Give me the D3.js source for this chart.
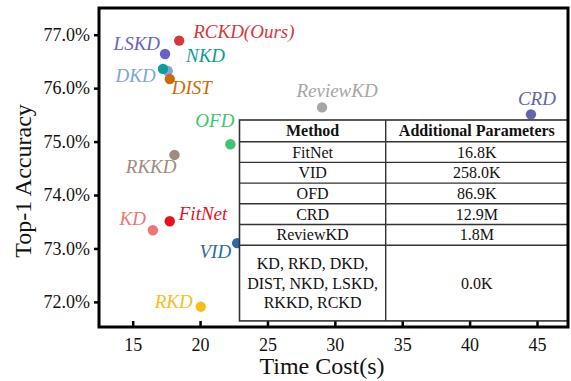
<!DOCTYPE html>
<html>
<head>
<meta charset="utf-8">
<script src="https://cdn.jsdelivr.net/npm/d3@7"></script>
<style>
  body { margin: 0; background: #fff; }
  svg { display: block; font-family: "Liberation Serif", "Times New Roman", serif; }
</style>
</head>
<body>
<svg id="chart"></svg>
<script>
var width = 571;
var height = 381;

// data
var methods  = ["RKD", "CRD", "ReviewKD", "KD", "FitNet", "VID", "RKKD", "OFD", "DIST", "DKD", "NKD", "LSKD", "RCKD(Ours)"];
var timeCost = [20.05, 44.55, 29.05, 16.5, 17.75, 22.75, 18.1, 22.25, 17.75, 17.6, 17.25, 17.4, 18.45];
var accuracy = [71.91, 75.51, 75.64, 73.34, 73.51, 73.1, 74.75, 74.95, 76.17, 76.32, 76.36, 76.64, 76.89];
var colors   = ["#f6bd1d", "#6465a8", "#a6a6a6", "#f07474", "#e3141c", "#2f69a1", "#a08b7e", "#3ec472",
                "#cb6a0d", "#7ba7d5", "#0b9c95", "#6b60c4", "#d3393f"];

var xTicks = [15, 20, 25, 30, 35, 40, 45];
var yTicks = [72, 73, 74, 75, 76, 77];

var tableHeader = ["Method", "Additional Parameters"];
var tableMethods = [["FitNet"], ["VID"], ["OFD"], ["CRD"], ["ReviewKD"],
                    ["KD, RKD, DKD,", "DIST, NKD, LSKD,", "RKKD, RCKD"]];
var tableParams = ["16.8K", "258.0K", "86.9K", "12.9M", "1.8M", "0.0K"];

// label placement relative to each dot: [dx, dy, anchor]
var labelPos = {
    "RKD": [-8, 1, "end"],
    "CRD": [6, -9, "middle"],
    "ReviewKD": [15, -10, "middle"],
    "KD": [-7, -5, "end"],
    "FitNet": [9, -1, "start"],
    "VID": [-6, 15, "end"],
    "RKKD": [2, 18, "end"],
    "OFD": [4, -17, "end"],
    "DIST": [2, 15, "start"],
    "DKD": [-12, 11, "end"],
    "NKD": [23, -7, "start"],
    "LSKD": [-5, -4, "end"],
    "RCKD(Ours)": [14, -3, "start"]
};

var plot = {left: 99, top: 8, right: 568, bottom: 327};

var svg = d3.select("#chart")
    .attr("width", width)
    .attr("height", height);

var x = d3.scaleLinear().domain([12.5, 47.3]).range([plot.left, plot.right]);
var y = d3.scaleLinear().domain([71.53, 77.5]).range([plot.bottom, plot.top]);

// axes
var xAxis = svg.append("g")
    .attr("transform", "translate(0," + plot.bottom + ")")
    .call(d3.axisBottom(x).tickValues(xTicks).tickSizeInner(-6).tickSizeOuter(0).tickPadding(11));
var yAxis = svg.append("g")
    .attr("transform", "translate(" + plot.left + ",0)")
    .call(d3.axisLeft(y).tickValues(yTicks).tickSizeInner(5).tickSizeOuter(0).tickPadding(4)
        .tickFormat(function(d) { return d.toFixed(1) + "%"; }));

[xAxis, yAxis].forEach(function(a) {
    a.select(".domain").remove();
    a.selectAll(".tick line").attr("stroke", "#000").attr("stroke-width", 2.5);
    a.selectAll(".tick text")
        .attr("fill", "#111")
        .style("font-family", "Liberation Serif")
        .style("font-size", "18px");
});

// points
var pts = methods.map(function(m, i) {
    return {name: m, t: timeCost[i], acc: accuracy[i], color: colors[i]};
});
// DKD underneath NKD
var order = ["RKD", "CRD", "ReviewKD", "KD", "FitNet", "VID", "RKKD", "OFD", "DKD", "NKD", "DIST", "LSKD", "RCKD(Ours)"];
pts.sort(function(a, b) { return order.indexOf(a.name) - order.indexOf(b.name); });

svg.append("g")
    .selectAll("circle")
    .data(pts)
    .enter().append("circle")
    .attr("cx", function(d) { return x(d.t); })
    .attr("cy", function(d) { return y(d.acc); })
    .attr("r", 5.2)
    .attr("fill", function(d) { return d.color; });

svg.append("g")
    .selectAll("text")
    .data(pts)
    .enter().append("text")
    .attr("x", function(d) { return x(d.t) + labelPos[d.name][0]; })
    .attr("y", function(d) { return y(d.acc) + labelPos[d.name][1]; })
    .attr("text-anchor", function(d) { return labelPos[d.name][2]; })
    .attr("fill", function(d) { return d.color; })
    .style("font-style", "italic")
    .style("font-size", "19px")
    .text(function(d) { return d.name; });

// table (drawn over the points)
var tbl = {left: 239.5, right: 568, top: 120, col: 385.7, head: 21.7, row: 20.7, last: 75.7};
var rowTops = [tbl.top + tbl.head];
tableMethods.forEach(function(m, i) {
    rowTops.push(rowTops[i] + tbl.row);
});
var tblBottom = rowTops[tableMethods.length - 1] + tbl.last;

var tg = svg.append("g");
tg.append("rect")
    .attr("x", tbl.left).attr("y", tbl.top)
    .attr("width", tbl.right - tbl.left).attr("height", tblBottom - tbl.top)
    .attr("fill", "#fff").attr("stroke", "#333").attr("stroke-width", 1.6);
tg.append("line")
    .attr("x1", tbl.col).attr("x2", tbl.col).attr("y1", tbl.top).attr("y2", tblBottom)
    .attr("stroke", "#333").attr("stroke-width", 1.4);
tg.selectAll("line.row")
    .data(rowTops.slice(0, tableMethods.length))
    .enter().append("line")
    .attr("class", "row")
    .attr("x1", tbl.left).attr("x2", tbl.right)
    .attr("y1", function(d) { return d; }).attr("y2", function(d) { return d; })
    .attr("stroke", "#333").attr("stroke-width", 1.4);

var c1 = (tbl.left + tbl.col) / 2;
var c2 = (tbl.col + tbl.right) / 2;

tg.selectAll("text.head")
    .data(tableHeader)
    .enter().append("text")
    .attr("x", function(d, i) { return i == 0 ? c1 : c2; })
    .attr("y", tbl.top + tbl.head / 2 + 5.5)
    .attr("text-anchor", "middle")
    .style("font-weight", "bold")
    .style("font-size", "16px")
    .attr("fill", "#111")
    .text(function(d) { return d; });

tableMethods.forEach(function(lines, i) {
    var h = i == tableMethods.length - 1 ? tbl.last : tbl.row;
    var mid = rowTops[i] + h / 2;
    var lh = 19.3;
    lines.forEach(function(s, j) {
        tg.append("text")
            .attr("x", c1)
            .attr("y", mid + (j - (lines.length - 1) / 2) * lh + 5.5)
            .attr("text-anchor", "middle")
            .style("font-size", "16px")
            .attr("fill", "#111")
            .text(s);
    });
    tg.append("text")
        .attr("x", c2)
        .attr("y", mid + 5.5)
        .attr("text-anchor", "middle")
        .style("font-size", "16px")
        .attr("fill", "#111")
        .text(tableParams[i]);
});

// frame
svg.append("rect")
    .attr("x", plot.left).attr("y", plot.top)
    .attr("width", plot.right - plot.left).attr("height", plot.bottom - plot.top)
    .attr("fill", "none").attr("stroke", "#000").attr("stroke-width", 3);

// axis titles
svg.append("text")
    .attr("x", 322).attr("y", 374)
    .attr("text-anchor", "middle")
    .style("font-size", "24px")
    .attr("fill", "#111")
    .text("Time Cost(s)");
svg.append("text")
    .attr("transform", "translate(31,181) rotate(-90)")
    .attr("text-anchor", "middle")
    .style("font-size", "24px")
    .attr("fill", "#111")
    .text("Top-1 Accuracy");
</script>
</body>
</html>
